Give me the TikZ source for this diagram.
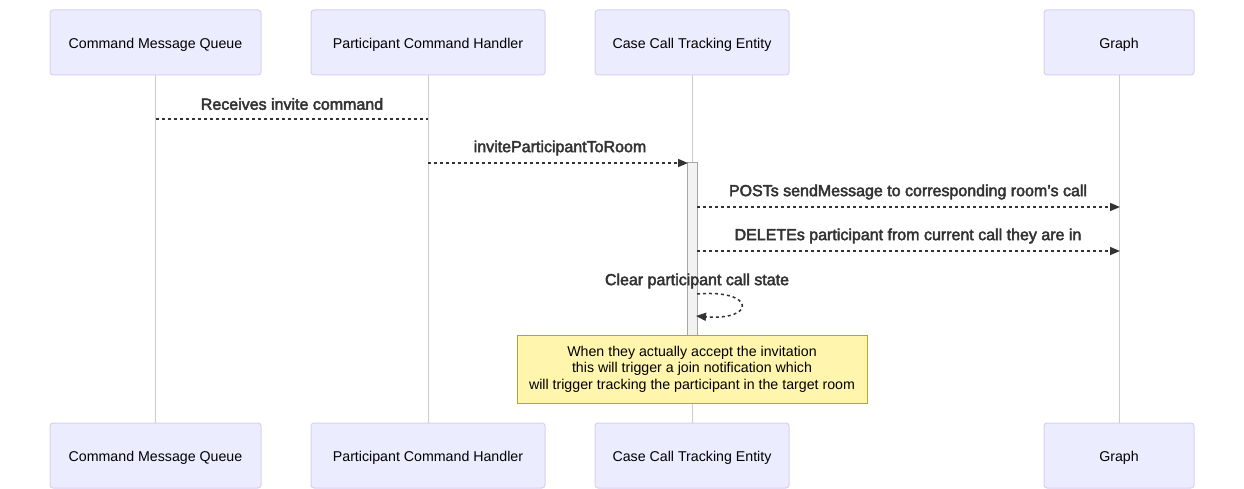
\documentclass[tikz,border=0pt]{standalone}
\usepackage{fontspec}
\setmainfont{Liberation Sans}
\newcommand\heavytext[1]{\special{pdf:code 2 Tr 0.45 w}#1\special{pdf:code 0 Tr}}
\usetikzlibrary{arrows.meta}
\definecolor{actfill}{HTML}{ECECFF}
\definecolor{actdraw}{HTML}{DACEF2}
\definecolor{lifeline}{HTML}{CCCCCC}
\definecolor{msgtext}{HTML}{333333}
\definecolor{notefill}{HTML}{FFF5AD}
\definecolor{notedraw}{HTML}{AAAA33}
\tikzset{
  actor/.style={draw=actdraw, fill=actfill, line width=1pt, rounded corners=3pt,
    minimum height=65pt, inner sep=0pt, text height=11.5pt, text depth=0pt,
    font=\fontsize{14.2}{16}\selectfont, text=black},
  life/.style={draw=lifeline, line width=1pt},
  msg/.style={draw=msgtext, line width=1.5pt, dash pattern=on 3pt off 3pt},
  msgarrow/.style={msg, -{Triangle[length=10pt,width=8pt]}},
  msglabel/.style={font=\fontsize{16}{18}\selectfont, text=msgtext, inner sep=0pt},
  notebox/.style={draw=notedraw, fill=notefill, line width=1pt, align=center,
    font=\fontsize{14.2}{16.5}\selectfont, text=black, minimum width=350pt, minimum height=68pt, inner sep=0pt},
  actbar/.style={draw=gray!70, fill=gray!10, line width=1pt}
}
\begin{document}
\begin{tikzpicture}[x=1pt,y=-1pt]
\useasboundingbox (0,0) rectangle (1244,489);
% top actors
\node[actor, minimum width=211pt] (a1) at (155.5,42.5) {Command Message Queue};
\node[actor, minimum width=234pt] (a2) at (428,42.5) {Participant Command Handler};
\node[actor, minimum width=194pt] (a3) at (692,42.5) {Case Call Tracking Entity};
\node[actor, minimum width=150pt] (a4) at (1119,42.5) {Graph};
% bottom actors
\node[actor, minimum width=211pt] (b1) at (155.5,455.5) {Command Message Queue};
\node[actor, minimum width=234pt] (b2) at (428,455.5) {Participant Command Handler};
\node[actor, minimum width=194pt] (b3) at (692,455.5) {Case Call Tracking Entity};
\node[actor, minimum width=150pt] (b4) at (1119,455.5) {Graph};
% lifelines
\draw[life] (a1.south) -- (b1.north);
\draw[life] (a2.south) -- (b2.north);
\draw[life] (a3.south) -- (b3.north);
\draw[life] (a4.south) -- (b4.north);
% activation
\draw[actbar] (687,163) rectangle (697,360);
% message 1
\coordinate (m1s) at (155.5,119);
\coordinate (m1e) at (428,119);
\draw[msg] (m1s) -- (m1e);
\node[msglabel] (l1) at (292,104) {\heavytext{Receives invite command}};
% message 2
\coordinate (m2s) at (428,163);
\coordinate (m2e) at (688,163);
\draw[msgarrow] (m2s) -- (m2e);
\node[msglabel] (l2) at (560,148) {\heavytext{inviteParticipantToRoom}};
% message 3
\coordinate (m3s) at (697,207);
\coordinate (m3e) at (1120,207);
\draw[msgarrow] (m3s) -- (m3e);
\node[msglabel] (l3) at (908,192) {\heavytext{POSTs sendMessage to corresponding room's call}};
% message 4
\coordinate (m4s) at (697,251);
\coordinate (m4e) at (1120,251);
\draw[msgarrow] (m4s) -- (m4e);
\node[msglabel] (l4) at (908,236) {\heavytext{DELETEs participant from current call they are in}};
% self message
\coordinate (m5s) at (697,294);
\coordinate (m5e) at (696,316);
\draw[msgarrow] (m5s) .. controls (756,289) and (756,321) .. (m5e);
\node[msglabel] (l5) at (697,281) {\heavytext{Clear participant call state}};
% note
\node[notebox] (n1) at (692,369) {When they actually accept the invitation\\this will trigger a join notification which\\will trigger tracking the participant in the target room};
\end{tikzpicture}
\end{document}
